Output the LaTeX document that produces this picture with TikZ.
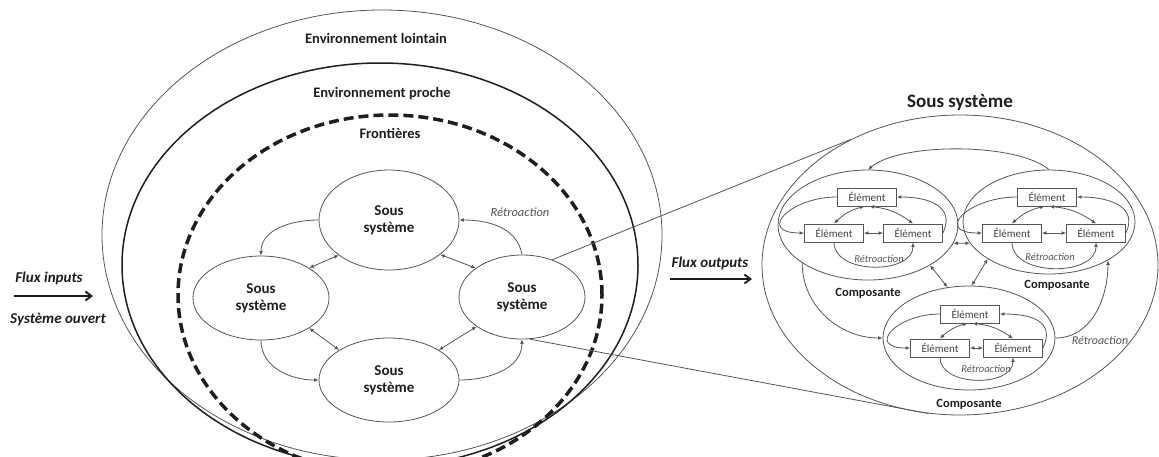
\documentclass[tikz,border=0pt]{standalone}
\usepackage{fontspec}
\setmainfont{Carlito}
\usetikzlibrary{shapes.geometric,arrows.meta}
\definecolor{ink}{HTML}{1E1E1E}
\definecolor{wire}{HTML}{555555}
\definecolor{soft}{HTML}{555555}

\begin{document}
\begin{tikzpicture}[x=1pt,y=1pt,
  lab/.style={text=ink, font=\bfseries\fontsize{14.5}{16}\selectfont, inner sep=0},
  flux/.style={text=ink, font=\bfseries\itshape\fontsize{15}{16}\selectfont, inner sep=0},
  fb/.style={text=soft, font=\itshape\fontsize{12.5}{14}\selectfont, inner sep=0},
  fbsmall/.style={text=soft, font=\itshape\fontsize{10.5}{12}\selectfont, inner sep=0},
  fbmid/.style={text=soft, font=\itshape\fontsize{12}{14}\selectfont, inner sep=0},
  compname/.style={text=ink, font=\bfseries\fontsize{12.5}{14}\selectfont, inner sep=0},
  ring/.style={ellipse, inner sep=0, draw=wire, line width=0.8pt},
  sub/.style={ellipse, inner sep=0, draw=wire, line width=0.8pt, text=ink,
    align=center, font=\bfseries\fontsize{15}{17}\selectfont},
  comp/.style={ellipse, inner sep=0, draw=wire, line width=0.8pt},
  elt/.style={rectangle, draw=wire, line width=0.8pt, minimum width=59pt,
    minimum height=18pt, inner sep=0, text=ink!85,
    font=\fontsize{11}{12}\selectfont},
  link/.style={draw=wire, line width=0.8pt, {Latex[length=4.5pt,width=3.8pt]}-{Latex[length=4.5pt,width=3.8pt]}},
  flow/.style={draw=wire, line width=0.8pt, -{Latex[length=4.5pt,width=3.8pt]}},
  bigarrow/.style={draw=ink, line width=1.9pt, -{Straight Barb[length=6pt,width=9pt]}},
  zoomline/.style={draw=wire, line width=0.8pt}
]
\useasboundingbox (0,0) rectangle (1159,-456);
\clip (0,0) rectangle (1159,-456);
\fill[white] (0,0) rectangle (1159,-456);

% ---- nested environments of the open system ----
\node[ring, minimum width=560pt, minimum height=450pt] (far) at (382,-235) {};
\node[ring, draw=ink, line width=1.5pt, minimum width=516pt, minimum height=404pt] (near) at (380,-265) {};
\node[ring, draw=ink, line width=3.5pt, dash pattern=on 10pt off 5pt,
      minimum width=424pt, minimum height=360pt] (front) at (390,-295) {};

\node[lab] (tFar) at (376,-38) {Environnement lointain};
\node[lab] (tNear) at (382,-94) {Environnement proche};
\node[lab] (tFront) at (390,-133) {Frontières};

% ---- sub-systems ----
\node[sub, minimum width=140pt, minimum height=100pt] (sT) at (389,-220) {Sous\\système};
\node[sub, minimum width=136pt, minimum height=84pt] (sL) at (261,-298) {Sous\\système};
\node[sub, minimum width=126pt, minimum height=84pt] (sR) at (522,-297) {Sous\\système};
\node[sub, minimum width=140pt, minimum height=84pt] (sB) at (389,-380) {Sous\\système};

\draw[link] (sL.32) -- (sT.215);
\draw[link] (sT.-34) -- (sR.148);
\draw[link] (sL.-32) -- (sB.149);
\draw[link] (sB.31) -- (sR.213);

\draw[flow] (sT.west) to[out=180,in=90] (sL.north);
\draw[flow] (sR.north) to[out=100,in=0] (sT.east);
\draw[flow] (sL.south) to[out=-90,in=180] (sB.west);
\draw[flow] (sB.east) to[out=0,in=-90] (sR.south);
\node[fb] (tFb) at (520,-212) {Rétroaction};

% ---- inputs ----
\coordinate (inA) at (14,-296);
\coordinate (inB) at (93,-296);
\draw[bigarrow] (inA) -- (inB);
\node[flux] (tIn) at (49,-278) {Flux inputs};
\node[flux] (tOpen) at (58,-320) {Système ouvert};

% ---- detail of one sub-system ----
\node[comp, minimum width=396pt, minimum height=300pt] (big) at (960,-265) {};
\node[text=ink, font=\bfseries\fontsize{19}{20}\selectfont, inner sep=0] (tSub) at (960,-102) {Sous système};

\draw[zoomline] (sR.51) -- (big.131);
\draw[zoomline] (sR.-80) -- (big.258);

% outputs
\coordinate (outA) at (670,-279);
\coordinate (outB) at (752,-279);
\draw[bigarrow] (outA) -- (outB);
\node[flux] (tOut) at (710,-263) {Flux outputs};

% components
\node[comp, minimum width=180pt, minimum height=110pt] (C1) at (868,-225) {};
\node[comp, minimum width=172pt, minimum height=104pt] (C2) at (1049,-222) {};
\node[comp, minimum width=172pt, minimum height=104pt] (C3) at (969,-338) {};

\node[elt] (e1t) at (867,-197) {Élément};
\node[elt] (e1l) at (834,-233) {Élément};
\node[elt] (e1r) at (913,-233) {Élément};
\node[elt] (e2t) at (1047,-197) {Élément};
\node[elt] (e2l) at (1012,-233) {Élément};
\node[elt] (e2r) at (1096,-233) {Élément};
\node[elt] (e3t) at (970,-314) {Élément};
\node[elt] (e3l) at (940,-348) {Élément};
\node[elt] (e3r) at (1013,-348) {Élément};

\foreach \k in {1,2,3}{
  \draw[link] ([xshift=-2.5pt]e\k t.south) to[bend right=15] (e\k l.north);
  \draw[link] ([xshift=2.5pt]e\k t.south) to[bend left=15] (e\k r.north);
  \draw[link] (e\k l.east) -- (e\k r.west);
  \draw[flow] (e\k t.west) to[out=180,in=180,looseness=2.5] (e\k l.west);
  \draw[flow] (e\k r.east) .. controls +(12,25) and +(35,0) .. (e\k t.east);
  \draw[flow] (e\k l.south) to[out=-90,in=-90,looseness=1.05] (e\k r.south);
}
\node[fbsmall] (fb1) at (879,-259) {Rétroaction};
\node[fbsmall] (fb2) at (1050,-257) {Rétroaction};
\node[fbsmall] (fb3) at (986,-369) {Rétroaction};

\draw[link] (C1.-12) -- (C2.195);
\draw[link] (C1.-33) -- (C3.113);
\draw[link] (C2.211) -- (C3.87);
\draw[flow] (C2.north) to[out=140,in=40,looseness=0.6] (C1.north);
\draw[flow] (C1.210) to[out=-90,in=180] (C3.west);
\draw[flow] (C3.east) to[out=0,in=-90] (C2.-33);
\node[fbmid] (fbC) at (1100,-340) {Rétroaction};

\node[compname] (n1) at (868,-293) {Composante};
\node[compname] (n2) at (1057,-285) {Composante};
\node[compname] (n3) at (969,-404) {Composante};
\end{tikzpicture}
\end{document}
